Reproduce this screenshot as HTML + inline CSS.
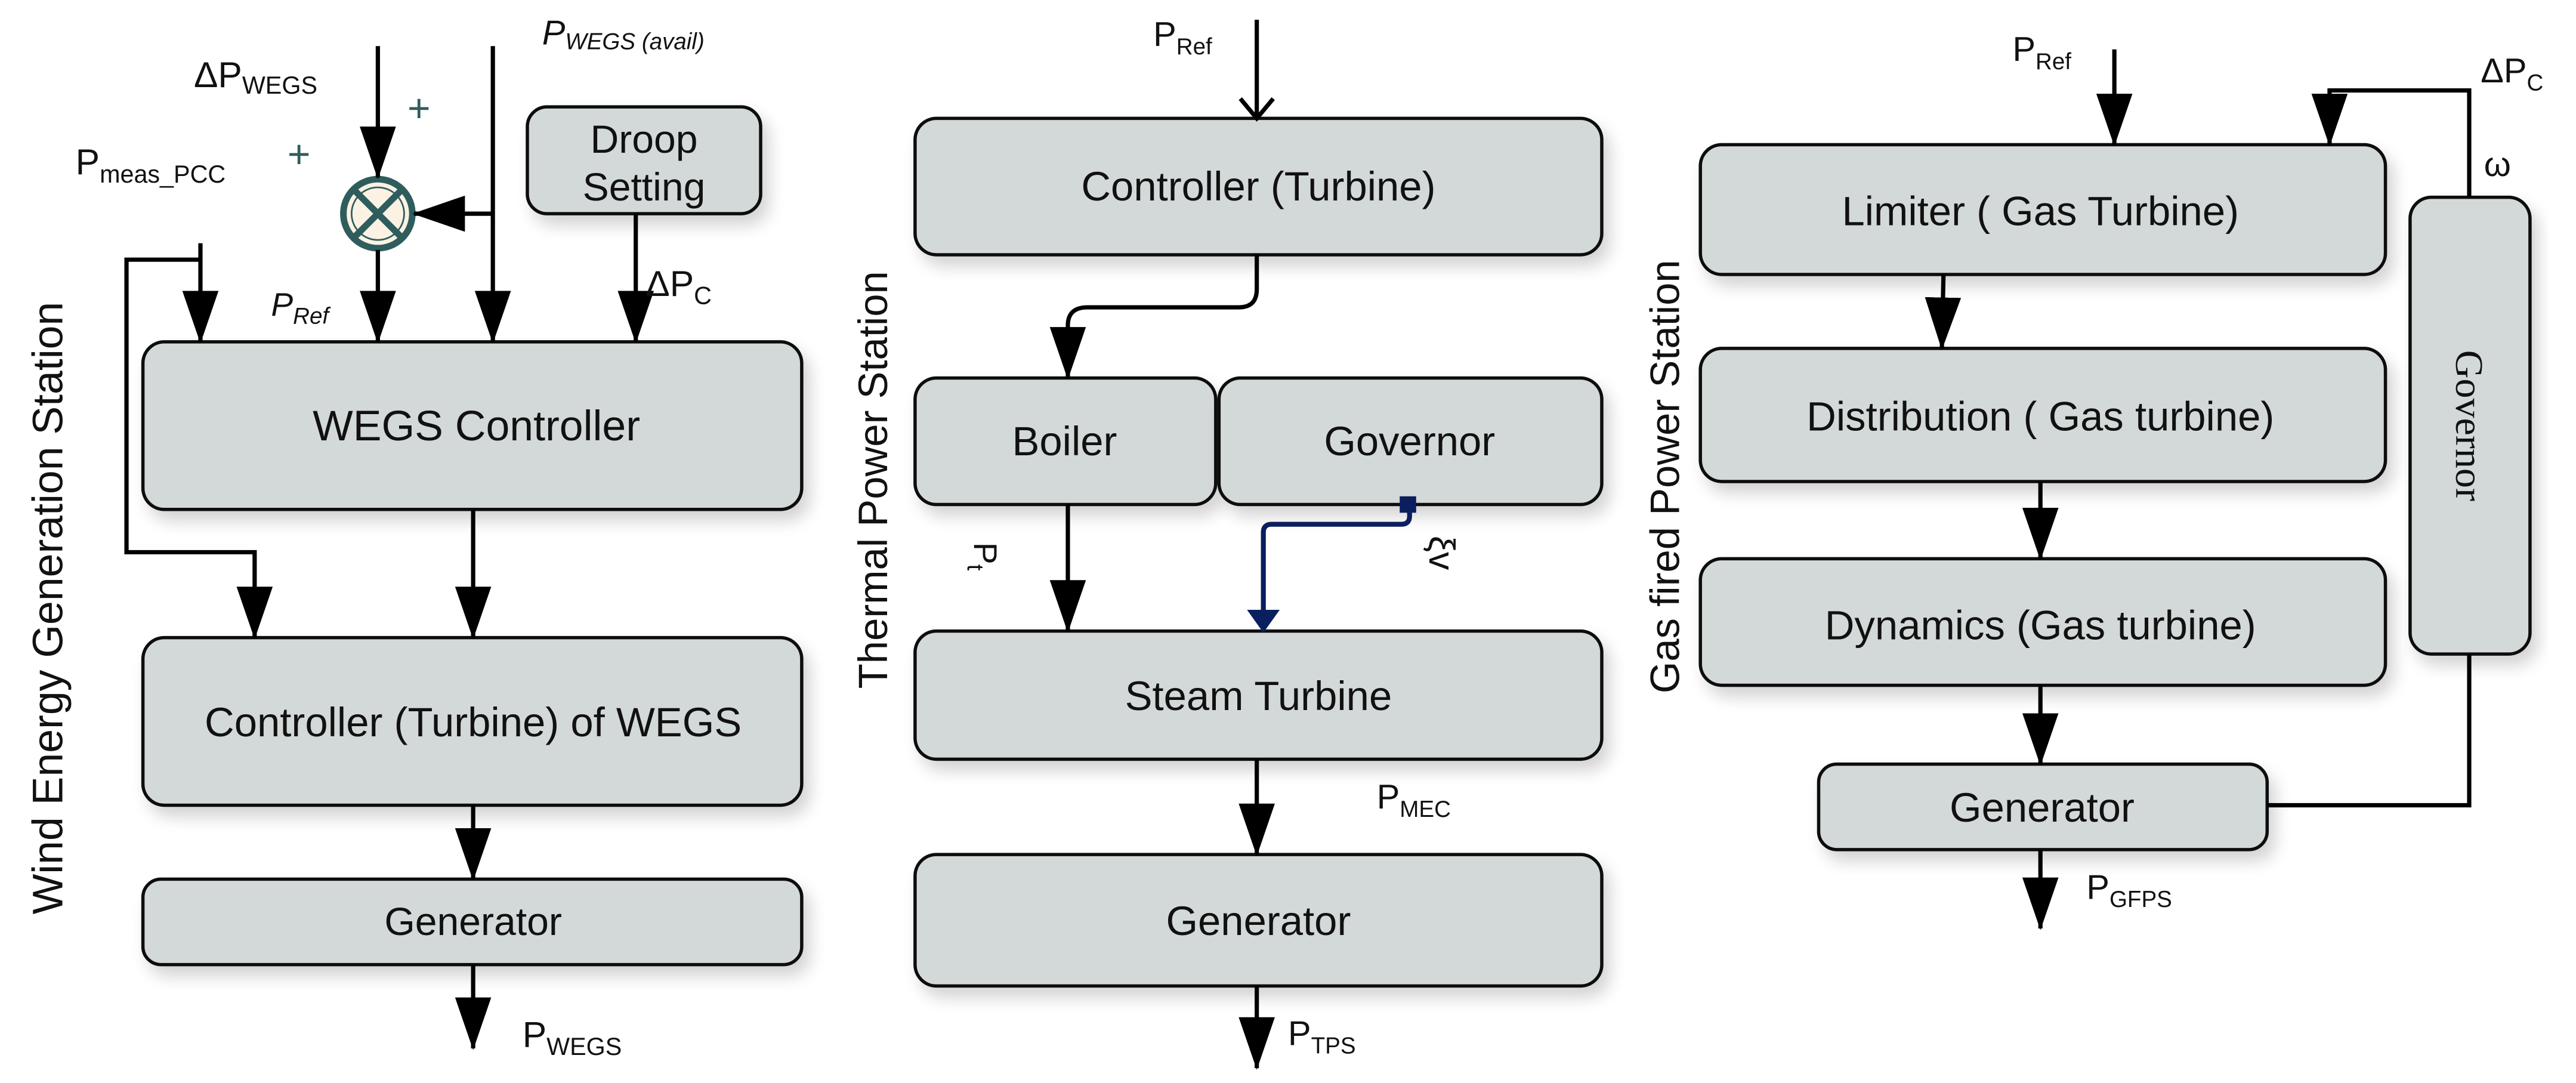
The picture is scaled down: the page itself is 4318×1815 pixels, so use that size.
<!DOCTYPE html>
<html><head><meta charset="utf-8"><style>
html,body{margin:0;padding:0;background:#fff;}
svg{display:block;}
text{font-family:"Liberation Sans",sans-serif;fill:#111;}
</style></head><body>
<svg width="4318" height="1815" viewBox="0 0 1568 659" xmlns="http://www.w3.org/2000/svg">
<defs>
<marker id="a" markerUnits="userSpaceOnUse" markerWidth="32" markerHeight="22" refX="31" refY="11" orient="auto" viewBox="0 0 32 22"><path d="M0,0 L32,11 L0,22 Z" fill="#000"/></marker>
<marker id="b" markerUnits="userSpaceOnUse" markerWidth="14" markerHeight="20" refX="13" refY="10" orient="auto" viewBox="0 0 14 20"><path d="M0,0 L14,10 L0,20 Z" fill="#0b1f5e"/></marker>
<filter id="sh" x="-10%" y="-20%" width="125%" height="150%"><feGaussianBlur in="SourceAlpha" stdDeviation="5"/><feOffset dx="4" dy="6"/><feComponentTransfer><feFuncA type="linear" slope="0.18"/></feComponentTransfer><feMerge><feMergeNode/><feMergeNode in="SourceGraphic"/></feMerge></filter>
</defs>
<style>
.bx{fill:#d3d9d8;stroke:#111;stroke-width:2;filter:url(#sh);}
.ln{stroke:#000;stroke-width:2.6;fill:none;}
.t{font-size:24px;text-anchor:middle;}
.u{font-size:25px;text-anchor:middle;}
</style>

<!-- LEFT PANEL -->
<text transform="translate(38,370) rotate(-90)" font-size="26" text-anchor="middle">Wind Energy Generation Station</text>
<rect class="bx" x="321" y="65" width="142" height="65" rx="12"/>
<text class="t" x="392" y="93" font-size="22">Droop</text>
<text class="t" x="392" y="122" font-size="22">Setting</text>
<rect class="bx" x="87" y="208" width="401" height="102" rx="13"/>
<text class="t" x="290" y="268" style="font-size:26px">WEGS Controller</text>
<rect class="bx" x="87" y="388" width="401" height="102" rx="13"/>
<text class="t" x="288" y="448" style="font-size:25px">Controller (Turbine) of WEGS</text>
<rect class="bx" x="87" y="535" width="401" height="52" rx="11"/>
<text class="t" x="288" y="569">Generator</text>

<circle cx="230" cy="130" r="21" fill="#fbf2e4" stroke="#2f5d5d" stroke-width="4"/>
<circle cx="230" cy="130" r="16" fill="none" stroke="#2f5d5d" stroke-width="1"/>
<path d="M215,115 L245,145 M245,115 L215,145" stroke="#2f5d5d" stroke-width="4"/>
<path class="ln" d="M230,28 V108" marker-end="url(#a)"/>
<path class="ln" d="M300,28 V208" marker-end="url(#a)"/>
<path class="ln" d="M300,130 H252" marker-end="url(#a)"/>
<path class="ln" d="M230,152 V208" marker-end="url(#a)"/>
<path class="ln" d="M122,148 V208" marker-end="url(#a)"/>
<path class="ln" d="M122,158 H77 V336 H155 V388" marker-end="url(#a)"/>
<path class="ln" d="M387,130 V208" marker-end="url(#a)"/>
<path class="ln" d="M288,310 V388" marker-end="url(#a)"/>
<path class="ln" d="M288,490 V535" marker-end="url(#a)"/>
<path class="ln" d="M288,587 V638" marker-end="url(#a)"/>
<text x="118" y="53" font-size="22">ΔP<tspan font-size="15" dy="4">WEGS</tspan></text>
<text x="330" y="27" font-size="21" font-style="italic">P<tspan font-size="14" dy="3">WEGS (avail)</tspan></text>
<text x="46" y="106" font-size="22">P<tspan font-size="15" dy="5">meas_PCC</tspan></text>
<text x="248" y="74" font-size="24" style="fill:#2f5d5d">+</text>
<text x="175" y="102" font-size="24" style="fill:#2f5d5d">+</text>
<text x="165" y="192" font-size="20" font-style="italic">P<tspan font-size="14" dy="5">Ref</tspan></text>
<text x="393" y="180" font-size="22">ΔP<tspan font-size="15" dy="5">C</tspan></text>
<text x="318" y="637" font-size="22">P<tspan font-size="15" dy="5">WEGS</tspan></text>

<!-- MIDDLE PANEL -->
<text transform="translate(540,292) rotate(-90)" font-size="25" text-anchor="middle">Thermal Power Station</text>
<rect class="bx" x="557" y="72" width="418" height="83" rx="13"/>
<text class="u" x="766" y="122">Controller (Turbine)</text>
<rect class="bx" x="557" y="230" width="183" height="77" rx="13"/>
<text class="u" x="648" y="277">Boiler</text>
<rect class="bx" x="742" y="230" width="233" height="77" rx="13"/>
<text class="u" x="858" y="277">Governor</text>
<rect class="bx" x="557" y="384" width="418" height="78" rx="13"/>
<text class="u" x="766" y="432">Steam Turbine</text>
<rect class="bx" x="557" y="520" width="418" height="80" rx="13"/>
<text class="u" x="766" y="569">Generator</text>
<path class="ln" d="M765,12 V72 M755,60 L765,72 L775,60"/>
<path class="ln" d="M765,155 V176 Q765,187 754,187 H662 Q650,187 650,198 V230" marker-end="url(#a)"/>
<path class="ln" d="M650,307 V384" marker-end="url(#a)"/>
<rect x="852" y="302" width="10" height="10" fill="#0b1f5e"/>
<path d="M858,310 V314 Q858,319 853,319 H774 Q769,319 769,324 V384" stroke="#0b1f5e" stroke-width="3" fill="none" marker-end="url(#b)"/>
<path class="ln" d="M765,462 V520" marker-end="url(#a)"/>
<path class="ln" d="M765,600 V650" marker-end="url(#a)"/>
<text x="702" y="28" font-size="21">P<tspan font-size="14" dy="5">Ref</tspan></text>
<text transform="translate(593,330) rotate(90)" font-size="20">P<tspan font-size="14" dy="4">t</tspan></text>
<text transform="translate(870,326) rotate(90)" font-size="22">ξv</text>
<text x="838" y="492" font-size="21">P<tspan font-size="14" dy="5">MEC</tspan></text>
<text x="784" y="636" font-size="21">P<tspan font-size="14" dy="5">TPS</tspan></text>

<!-- RIGHT PANEL -->
<text transform="translate(1022,290) rotate(-90)" font-size="25" text-anchor="middle">Gas fired Power Station</text>
<rect class="bx" x="1035" y="88" width="417" height="79" rx="13"/>
<text class="u" x="1242" y="137">Limiter ( Gas Turbine)</text>
<rect class="bx" x="1035" y="212" width="417" height="81" rx="13"/>
<text class="u" x="1242" y="262">Distribution ( Gas turbine)</text>
<rect class="bx" x="1035" y="340" width="417" height="77" rx="13"/>
<text class="u" x="1242" y="389">Dynamics (Gas turbine)</text>
<rect class="bx" x="1107" y="465" width="273" height="52" rx="11"/>
<text class="u" x="1243" y="500">Generator</text>
<rect class="bx" x="1467" y="120" width="73" height="278" rx="13"/>
<text transform="translate(1495,259) rotate(90)" font-size="24" text-anchor="middle" style="font-family:'Liberation Serif',serif">Governor</text>
<path class="ln" d="M1287,30 V88" marker-end="url(#a)"/>
<path class="ln" d="M1503,120 V55 H1418 V88" marker-end="url(#a)"/>
<path class="ln" d="M1183,167 L1182,212" marker-end="url(#a)"/>
<path class="ln" d="M1242,293 V340" marker-end="url(#a)"/>
<path class="ln" d="M1242,417 V465" marker-end="url(#a)"/>
<path class="ln" d="M1380,490 H1503 V398"/>
<path class="ln" d="M1242,517 V565" marker-end="url(#a)"/>
<text x="1225" y="37" font-size="21">P<tspan font-size="14" dy="5">Ref</tspan></text>
<text x="1510" y="50" font-size="21">ΔP<tspan font-size="14" dy="5">C</tspan></text>
<text x="1512" y="107" font-size="21">ω</text>
<text x="1270" y="547" font-size="21">P<tspan font-size="14" dy="5">GFPS</tspan></text>
</svg>
</body></html>
